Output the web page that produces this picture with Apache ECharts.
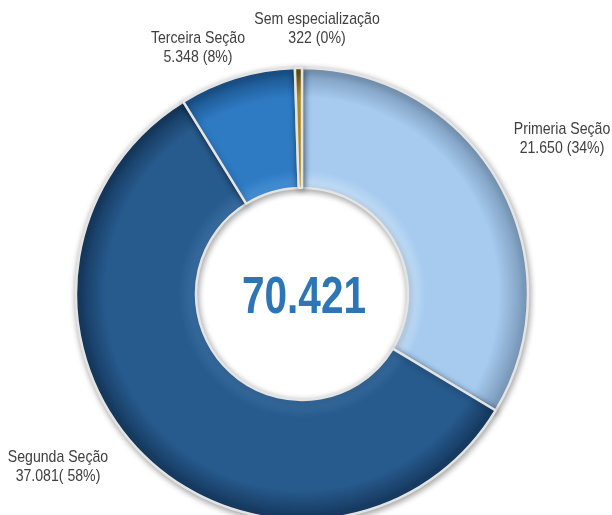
<!DOCTYPE html>
<html>
<head>
<meta charset="utf-8">
<script src="https://cdn.jsdelivr.net/npm/echarts@6/dist/echarts.min.js"></script>
<style>
  html, body { margin: 0; padding: 0; background: #fff; }
  #container { width: 612px; height: 515px; }
</style>
</head>
<body>
<div id="container"></div>
<script>
// dados
var categorias = ["Primeira Seção", "Segunda Seção", "Terceira Seção", "Sem especialização"];
var rotulos = ["Primeria Seção", "Segunda Seção", "Terceira Seção", "Sem especialização"];
var valores = [21650, 37081, 5348, 322];
var valoresTexto = ["21.650 (34%)", "37.081( 58%)", "5.348 (8%)", "322 (0%)"];
var totalTexto = "70.421";

var cx = 302, cy = 294, rOut = 226, rIn = 106;
var fonte = "'Liberation Sans', Arial, sans-serif";

// cores de cada fatia: borda interna, base, borda externa
var cores = [
  ["#c8e0f7", "#a6cbef", "#7f9fc0"],
  ["#3a6fa3", "#275a8d", "#173c63"],
  ["#4a92d6", "#2e7bc4", "#1c568f"],
  ["#f0d060", "#c9a227", "#6f560c"]
];

// posicoes dos rotulos (centro do bloco de texto)
var posRotulos = [[562, 139], [58, 467], [198, 48], [317, 29]];

function bevel(c) {
  var k = rIn / rOut;
  return new echarts.graphic.RadialGradient(cx, cy, rOut, [
    { offset: 0, color: c[0] },
    { offset: k, color: c[0] },
    { offset: k + 0.08, color: c[1] },
    { offset: 0.87, color: c[1] },
    { offset: 0.975, color: c[2] },
    { offset: 1, color: c[2] }
  ], true);
}

var dados = categorias.map(function (nome, i) {
  return {
    name: nome,
    value: valores[i],
    itemStyle: { color: bevel(cores[i]) }
  };
});

// rotulos como texto (fonte estreita simulada com scaleX)
var textos = rotulos.map(function (r, i) {
  return {
    type: "text",
    x: posRotulos[i][0],
    y: posRotulos[i][1],
    scaleX: 0.83,
    style: {
      text: r + "\n" + valoresTexto[i],
      fill: "#404040",
      font: "17px " + fonte,
      lineHeight: 19,
      textAlign: "center",
      textVerticalAlign: "middle"
    }
  };
});

textos.push({
  type: "text",
  x: cx + 2,
  y: cy + 5,
  scaleX: 0.78,
  style: {
    text: totalTexto,
    fill: "#2e75b6",
    font: "bold 52px " + fonte,
    textAlign: "center",
    textVerticalAlign: "middle"
  }
});

var myChart = echarts.init(document.getElementById("container"));
myChart.setOption({
  backgroundColor: "#fff",
  animation: false,
  series: [
    {
      type: "pie",
      center: [cx, cy],
      radius: [rIn, rOut],
      startAngle: 90,
      clockwise: true,
      minAngle: 0,
      itemStyle: {
        borderColor: "#e4e4e4",
        borderWidth: 2.5,
        shadowBlur: 6,
        shadowColor: "rgba(0,0,0,0.35)",
        shadowOffsetX: 1,
        shadowOffsetY: 2
      },
      label: { show: false },
      labelLine: { show: false },
      data: dados
    }
  ],
  graphic: textos
});
</script>
</body>
</html>
